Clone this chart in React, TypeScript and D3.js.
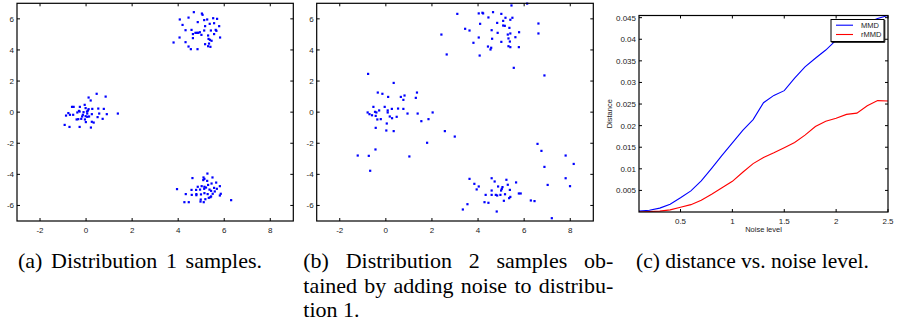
import React from 'react';
import * as d3 from 'd3';

// ---------- data ----------
const dist1Samples: [number, number][] = [
  [0.46, 1.18], [0.85, 1.0], [0.11, 0.94], [0.2, 0.75], [-0.61, 0.34], [-0.54, 0.34], [-0.27, 0.34], [-0.06, 0.47],
  [-0.02, 0.26], [0.11, 0.19], [0.27, 0.21], [0.53, 0.23], [0.77, 0.21], [-0.77, -0.06], [-0.7, -0.17], [-0.87, -0.22],
  [-0.56, -0.17], [-0.38, -0.02], [-0.31, 0.08], [-0.28, 0.04], [-0.11, 0.0], [0.04, 0.04], [0.08, 0.1], [-0.17, -0.28],
  [-0.02, -0.26], [0.05, -0.3], [0.13, -0.28], [0.25, -0.13], [0.57, -0.09], [0.9, -0.13], [1.38, -0.09], [-0.41, -0.47],
  [-0.34, -0.45], [-0.21, -0.43], [-0.05, -0.47], [0.25, -0.62], [0.33, -0.67], [0.5, -0.32], [0.72, -0.43], [-0.93, -0.82],
  [-0.72, -0.95], [-0.28, -0.95], [0.21, -0.99], [-0.01, -0.64], [-0.14, -0.17], [0.05, -0.09],
  [4.68, 6.43], [5.03, 6.34], [5.06, 6.26], [4.45, 6.08], [4.07, 5.96], [5.13, 5.92], [5.26, 5.96], [5.52, 6.04],
  [5.69, 6.0], [4.85, 5.79], [4.19, 5.61], [5.37, 5.68], [5.56, 5.72], [5.78, 5.53], [5.17, 5.53], [4.32, 5.27],
  [4.58, 5.29], [4.75, 5.1], [4.81, 5.1], [4.87, 5.1], [4.94, 5.14], [5.13, 5.25], [5.42, 5.25], [5.63, 5.29],
  [5.66, 5.23], [4.64, 5.02], [5.01, 4.97], [5.3, 4.93], [5.56, 5.02], [5.32, 4.71], [5.38, 4.65], [4.06, 4.8],
  [4.64, 4.76], [5.82, 4.8], [5.45, 4.59], [3.8, 4.48], [4.32, 4.5], [5.34, 4.41], [5.3, 4.24], [5.4, 4.2],
  [4.45, 4.22], [4.55, 4.05], [4.84, 4.05], [5.17, 4.37],
  [5.27, -3.95], [4.62, -4.24], [5.1, -4.2], [5.14, -4.29], [5.09, -4.37], [5.49, -4.2], [5.26, -4.42], [5.65, -4.53],
  [5.45, -4.59], [4.85, -4.8], [5.02, -4.76], [5.14, -4.8], [5.3, -4.68], [4.58, -5.0], [4.78, -5.0], [4.95, -4.98],
  [5.13, -4.93], [5.21, -4.85], [5.36, -4.98], [5.43, -5.06], [5.56, -4.87], [5.68, -4.93], [3.95, -4.95], [5.81, -4.76],
  [4.33, -5.27], [4.59, -5.32], [4.79, -5.34], [4.79, -5.27], [4.99, -5.29], [5.14, -5.21], [5.28, -5.27], [5.5, -5.25],
  [5.85, -5.25], [5.81, -5.36], [4.98, -5.62], [5.18, -5.6], [5.33, -5.51], [5.4, -5.47], [5.43, -5.42], [4.27, -5.79],
  [4.46, -5.79], [4.97, -5.75], [5.11, -5.79], [6.3, -5.66], [5.59, -5.1],
];

const dist2Samples: [number, number][] = [
  [-0.77, 2.46], [0.34, 1.88], [-0.35, 1.26], [-0.15, 1.18], [0.1, 0.98], [0.65, 0.98], [0.81, 1.07], [0.76, 0.79],
  [1.35, 1.26], [1.3, 0.92], [-0.54, 0.34], [-0.05, 0.34], [0.26, 0.21], [0.53, 0.23], [0.76, 0.21], [-0.79, -0.02],
  [-0.71, -0.13], [-0.6, -0.2], [-0.47, 0.02], [-0.41, -0.02], [-0.29, 0.11], [0.08, 0.11], [0.08, -0.02], [0.17, -0.28],
  [0.27, -0.39], [0.47, -0.3], [0.94, -0.09], [1.38, -0.09], [2.03, -0.02], [-0.44, -0.24], [-0.37, -0.47], [-0.22, -0.45],
  [0.04, -0.73], [1.54, -0.58], [1.85, -0.45], [-0.44, -1.01], [0.02, -1.18], [0.34, -1.22], [2.56, -1.22], [2.99, -1.57],
  [1.79, -1.97], [-0.45, -2.4], [-1.22, -2.79], [-0.74, -2.81], [1.02, -2.85], [-0.68, -3.77],
  [5.45, 6.86], [6.13, 6.98], [3.1, 6.32], [4.03, 6.35], [4.19, 6.39], [4.22, 6.35], [4.65, 6.43], [5.01, 6.32],
  [4.45, 6.09], [5.19, 6.07], [5.49, 6.07], [5.4, 5.94], [5.09, 5.87], [4.09, 5.68], [4.83, 5.74], [6.62, 5.7],
  [5.09, 5.57], [5.16, 5.55], [5.36, 5.42], [3.44, 5.36], [3.63, 5.25], [4.59, 5.27], [4.85, 5.1], [5.29, 4.99],
  [5.4, 5.06], [5.78, 5.14], [6.62, 5.06], [2.41, 4.99], [4.03, 4.8], [4.61, 4.72], [5.32, 4.74], [5.62, 4.82],
  [5.01, 4.52], [5.38, 4.54], [3.8, 4.46], [4.43, 4.22], [4.57, 4.14], [4.54, 4.03], [5.32, 4.24], [5.4, 4.18],
  [5.77, 4.18], [2.64, 3.71], [4.07, 3.64], [5.55, 2.85], [6.88, 2.36],
  [6.58, -2.04], [6.75, -2.49], [6.88, -3.52], [7.8, -2.79], [8.15, -3.33], [7.8, -4.25], [7.99, -4.76], [7.02, -4.68],
  [3.63, -4.29], [3.84, -4.61], [4.03, -4.78], [3.94, -4.97], [4.59, -4.25], [4.72, -4.46], [5.23, -4.35], [5.29, -4.67],
  [5.65, -4.52], [4.87, -4.78], [5.06, -4.82], [5.03, -4.93], [5.0, -5.04], [4.59, -5.04], [4.33, -5.32], [4.59, -5.32],
  [4.77, -5.32], [4.83, -5.36], [4.97, -5.32], [5.17, -5.28], [5.38, -5.0], [5.4, -5.45], [5.35, -5.53], [5.77, -5.23],
  [5.85, -5.23], [4.28, -5.79], [4.45, -5.83], [5.12, -5.7], [6.29, -5.68], [6.45, -5.72], [3.54, -5.92], [3.34, -6.26],
  [4.81, -6.39], [7.2, -6.82],
];

const scatterTicksX = [-2, 0, 2, 4, 6, 8];
const scatterTicksY = [-6, -4, -2, 0, 2, 4, 6];

const noiseLevels = [0.1, 0.2, 0.3, 0.4, 0.5, 0.6, 0.7, 0.8, 0.9, 1.0, 1.1, 1.2, 1.3, 1.4, 1.5, 1.6, 1.7, 1.8, 1.9, 2.0, 2.1, 2.2, 2.3, 2.4, 2.5];
const mmdValues = [0.0002, 0.0004, 0.0009, 0.0018, 0.0033, 0.0049, 0.0072, 0.0101, 0.0131, 0.016, 0.0189, 0.0214, 0.0253, 0.027, 0.0281, 0.031, 0.0336, 0.0356, 0.0375, 0.0398, 0.0415, 0.0428, 0.0438, 0.0448, 0.0455];
const rmmdValues = [0.0, 0.0001, 0.0002, 0.0005, 0.0011, 0.0017, 0.0027, 0.0041, 0.0056, 0.0071, 0.0092, 0.0112, 0.0126, 0.0137, 0.0149, 0.0161, 0.0178, 0.0198, 0.021, 0.0217, 0.0226, 0.0229, 0.0246, 0.0258, 0.0257];
const curveTicksX = [0.5, 1, 1.5, 2, 2.5];
const curveTicksY = [0.005, 0.01, 0.015, 0.02, 0.025, 0.03, 0.035, 0.04, 0.045];
const seriesNames = ['MMD', 'rMMD'];

const captionA = '(a) Distribution 1 samples.';
const captionB = ['(b) Distribution 2 samples ob-', 'tained by adding noise to distribu-', 'tion 1.'];
const captionC = '(c) distance vs. noise level.';

// ---------- helpers ----------
const AXFONT = "'Liberation Sans', Arial, Helvetica, sans-serif";
const SERIF = "'Liberation Serif', 'Times New Roman', serif";
const CAP_SIZE = 22;
const TICK = 3;

let ctx: CanvasRenderingContext2D | null = null;
function measure(text: string, font: string) {
  if (!ctx) ctx = document.createElement('canvas').getContext('2d');
  if (!ctx) return text.length * 10;
  ctx.font = font;
  return ctx.measureText(text).width;
}

function JustifiedLine({ text, x0, x1, y, size = CAP_SIZE }: { text: string; x0: number; x1: number; y: number; size?: number }) {
  const font = `${size}px 'Liberation Serif'`;
  const words = text.split(' ');
  const widths = words.map((w) => measure(w, font));
  const total = widths.reduce((a, b) => a + b, 0);
  const gap = (x1 - x0 - total) / (words.length - 1);
  let x = x0;
  return (
    <g>
      {words.map((w, i) => {
        const el = (
          <text key={i} x={x} y={y} fontFamily={SERIF} fontSize={size} fill="#000">
            {w}
          </text>
        );
        x += widths[i] + gap;
        return el;
      })}
    </g>
  );
}

const fmt = (v: number) => String(v);

function Frame({ l, r, t, b, xs, ys, xScale, yScale, xFmt, yFmt }: any) {
  return (
    <g>
      <rect x={l} y={t} width={r - l} height={b - t} fill="none" stroke="#000" strokeWidth={1.2} />
      {xs.map((v: number) => {
        const x = xScale(v);
        return (
          <g key={'x' + v}>
            <line x1={x} x2={x} y1={b} y2={b - TICK} stroke="#000" strokeWidth={1} />
            <line x1={x} x2={x} y1={t} y2={t + TICK} stroke="#000" strokeWidth={1} />
            <text x={x} y={b + 11.5} textAnchor="middle" fontFamily={AXFONT} fontSize={8} fill="#222">
              {xFmt(v)}
            </text>
          </g>
        );
      })}
      {ys.map((v: number) => {
        const y = yScale(v);
        return (
          <g key={'y' + v}>
            <line x1={l} x2={l + TICK} y1={y} y2={y} stroke="#000" strokeWidth={1} />
            <line x1={r} x2={r - TICK} y1={y} y2={y} stroke="#000" strokeWidth={1} />
            <text x={l - 3} y={y + 3} textAnchor="end" fontFamily={AXFONT} fontSize={8} fill="#222">
              {yFmt(v)}
            </text>
          </g>
        );
      })}
    </g>
  );
}

function Scatter({ l, r, t, b, pts }: { l: number; r: number; t: number; b: number; pts: [number, number][] }) {
  const x = d3.scaleLinear().domain([-3, 9]).range([l, r]);
  const y = d3.scaleLinear().domain([-7, 7]).range([b, t]);
  return (
    <g>
      <rect x={l} y={t} width={r - l} height={b - t} fill="#fff" />
      {pts.map((p, i) => (
        <rect key={i} x={x(p[0]) - 1.1} y={y(p[1]) - 1.1} width={2.2} height={2.2} fill="#0000ff" />
      ))}
      <Frame l={l} r={r} t={t} b={b} xs={scatterTicksX} ys={scatterTicksY} xScale={x} yScale={y} xFmt={fmt} yFmt={fmt} />
    </g>
  );
}

function Curves() {
  const l = 639, r = 888, t = 15.5, b = 212;
  const x = d3.scaleLinear().domain([0.1, 2.5]).range([l, r]);
  const y = d3.scaleLinear().domain([0, 0.0455]).range([b, t]);
  const line = d3
    .line<number>()
    .x((_, i) => x(noiseLevels[i]))
    .y((d) => y(d));
  const lgX = 831, lgY = 19.5, lgW = 53, lgH = 22;
  const colors = ['#0000ff', '#ff0000'];
  return (
    <g>
      <defs>
        <clipPath id="clipC">
          <rect x={l} y={t - 1} width={r - l} height={b - t + 1} />
        </clipPath>
      </defs>
      <rect x={l} y={t} width={r - l} height={b - t} fill="#fff" />
      <g clipPath="url(#clipC)">
        <path d={line(mmdValues) || ''} fill="none" stroke={colors[0]} strokeWidth={1.1} />
        <path d={line(rmmdValues) || ''} fill="none" stroke={colors[1]} strokeWidth={1.1} />
      </g>
      <Frame l={l} r={r} t={t} b={b} xs={curveTicksX} ys={curveTicksY} xScale={x} yScale={y} xFmt={(v: number) => String(v)} yFmt={(v: number) => String(v)} />
      <text x={(l + r) / 2} y={b + 20} textAnchor="middle" fontFamily={AXFONT} fontSize={7.5} fill="#222">
        Noise level
      </text>
      <text transform={`translate(${612},${(t + b) / 2}) rotate(-90)`} textAnchor="middle" fontFamily={AXFONT} fontSize={7.5} fill="#222">
        Distance
      </text>
      <g>
        <rect x={lgX} y={lgY} width={lgW} height={lgH} fill="#fff" stroke="#000" strokeWidth={1} />
        <line x1={lgX + lgW + 0.8} x2={lgX + lgW + 0.8} y1={lgY + 0.5} y2={lgY + lgH + 0.8} stroke="#000" strokeWidth={1} />
        <line x1={lgX + 0.5} x2={lgX + lgW + 0.8} y1={lgY + lgH + 0.8} y2={lgY + lgH + 0.8} stroke="#000" strokeWidth={1} />
        {seriesNames.map((n, i) => {
          const yy = lgY + 5.7 + i * 9.3;
          return (
            <g key={n}>
              <line x1={lgX + 5} x2={lgX + 22} y1={yy} y2={yy} stroke={colors[i]} strokeWidth={1.1} />
              <text x={lgX + 30} y={yy + 2.8} fontFamily={AXFONT} fontSize={7.5} fill="#222">
                {n}
              </text>
            </g>
          );
        })}
      </g>
    </g>
  );
}

export default function App() {
  return (
    <svg width={902} height={325} style={{ position: 'absolute', left: 0, top: 0, background: '#fff' }}>
      <rect x={0} y={0} width={902} height={325} fill="#fff" />
      <Scatter l={17} r={293.3} t={3.3} b={221} pts={dist1Samples} />
      <Scatter l={316.7} r={593.3} t={3.3} b={221} pts={dist2Samples} />
      <Curves />
      <JustifiedLine text={captionA} x0={18} x1={262} y={268} />
      <JustifiedLine text={captionB[0]} x0={303.3} x1={613.3} y={268} />
      <JustifiedLine text={captionB[1]} x0={303.3} x1={613.3} y={292.7} />
      <text x={303.3} y={317} fontFamily={SERIF} fontSize={CAP_SIZE} fill="#000">
        {captionB[2]}
      </text>
      <text x={636} y={268} fontFamily={SERIF} fontSize={21.5} fill="#000">
        {captionC}
      </text>
    </svg>
  );
}
